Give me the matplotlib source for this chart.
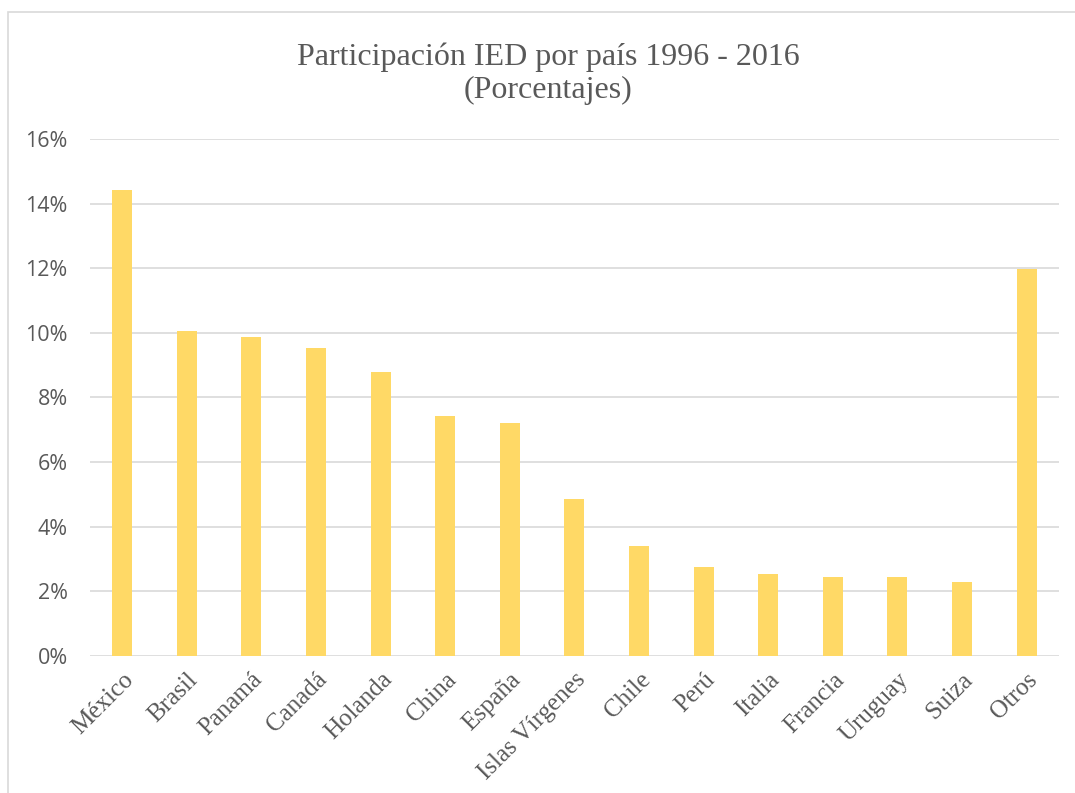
import matplotlib.pyplot as plt
from matplotlib.patches import Rectangle
from matplotlib.ticker import FuncFormatter

paises = ['México', 'Brasil', 'Panamá', 'Canadá', 'Holanda', 'China', 'España',
          'Islas Vírgenes', 'Chile', 'Perú', 'Italia', 'Francia', 'Uruguay',
          'Suiza', 'Otros']
participacion = [14.43, 10.06, 9.87, 9.54, 8.80, 7.42, 7.21,
                 4.85, 3.39, 2.74, 2.54, 2.43, 2.43, 2.30, 11.99]
yticks = [0, 2, 4, 6, 8, 10, 12, 14, 16]

gris = '#595959'

fig = plt.figure(figsize=(10.75, 7.93), dpi=100)
ax = fig.add_axes([0.0837, 0.1728, 0.9013, 0.652])

# chart area border (partly outside the picture)
fig.patches.append(Rectangle((8 / 1075, -0.05), 1.1, 1 - 12 / 793 + 0.05,
                             transform=fig.transFigure, fill=False,
                             edgecolor='#d9d9d9', linewidth=1.2))

x = range(len(paises))
ax.bar(x, participacion, width=0.31, color='#FFD966', zorder=3)

ax.set_xlim(-0.5, len(paises) - 0.5)
ax.set_ylim(0, 16)
ax.set_yticks(yticks)
ax.yaxis.set_major_formatter(FuncFormatter(lambda v, p: '{:.0f}%'.format(v)))
ax.grid(axis='y', color='#d9d9d9', linewidth=1.2, zorder=0)
for s in ax.spines.values():
    s.set_visible(False)
ax.tick_params(axis='both', length=0, colors=gris)
ax.tick_params(axis='y', pad=16)
for lbl in ax.get_yticklabels():
    lbl.set_fontfamily('Open Sans')
    lbl.set_fontsize(15.5)

ax.set_xticks(list(x))
ax.set_xticklabels(paises, rotation=45, ha='right', va='top',
                   rotation_mode='anchor', fontfamily='Liberation Serif',
                   fontsize=18, color=gris)
ax.tick_params(axis='x', pad=9)

fig.text(0.51, 0.907, 'Participación IED por país 1996 - 2016\n(Porcentajes)',
         ha='center', va='center', fontfamily='Liberation Serif', fontsize=23,
         color=gris, linespacing=1.2)

fig.savefig('out.png', dpi=100)
